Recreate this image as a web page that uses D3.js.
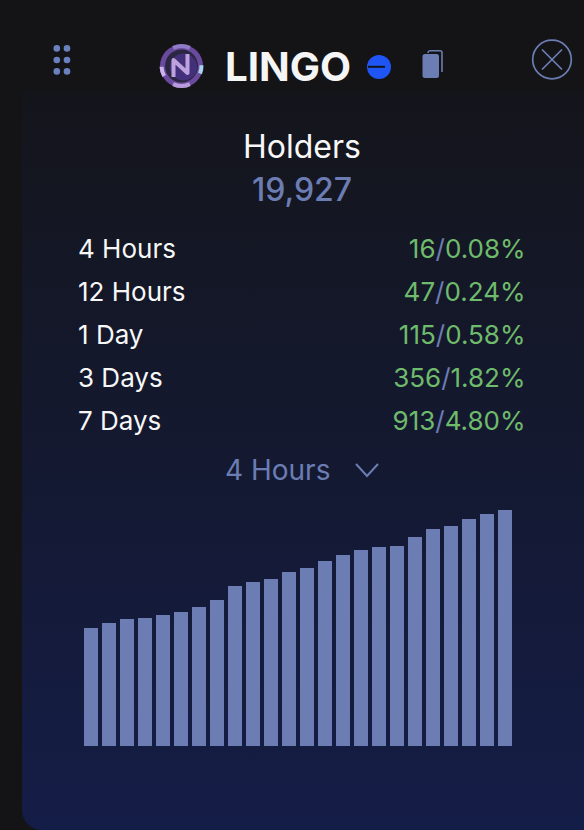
<!DOCTYPE html>
<html>
<head>
<meta charset="utf-8">
<script src="https://cdn.jsdelivr.net/npm/d3@7"></script>
<style>
  html, body { margin: 0; padding: 0; background: #141417; overflow: hidden; }
  text { font-family: Inter, "Noto Sans", sans-serif; }
</style>
</head>
<body>
<svg id="chart" width="584" height="830"></svg>
<script>
// values
var periods = ["4 Hours", "12 Hours", "1 Day", "3 Days", "7 Days"];
var changes = ["16", "47", "115", "356", "913"];
var percents = ["0.08%", "0.24%", "0.58%", "1.82%", "4.80%"];
var barValues = [118, 123, 127, 128, 131, 134, 139, 146, 160, 164, 167, 174,
                 178, 185, 191, 196, 199, 200, 209, 217, 220, 227, 232, 236];

var blue = "#6b7db3";
var svg = d3.select("#chart");
var defs = svg.append("defs");

var grad = defs.append("linearGradient").attr("id", "panelFill")
  .attr("x1", 0).attr("y1", 0).attr("x2", 0).attr("y2", 1);
grad.append("stop").attr("offset", "0%").attr("stop-color", "#14151b");
grad.append("stop").attr("offset", "100%").attr("stop-color", "#141d47");

// page panel
svg.append("rect").attr("width", 584).attr("height", 830).attr("fill", "#141417");
svg.append("path")
  .attr("d", "M22,90H584V830H42A20,20 0 0 1 22,810Z")
  .attr("fill", "url(#panelFill)");

// drag handle
var dotRows = [48.4, 60, 71.4], dotCols = [56.8, 67];
dotRows.forEach(function (r) {
  dotCols.forEach(function (c) {
    svg.append("circle").attr("cx", c).attr("cy", r).attr("r", 3.3).attr("fill", "#6b80bf");
  });
});

// logo
var logo = svg.append("g").attr("transform", "translate(181.5,66)");
var logoArc = d3.arc().innerRadius(18).outerRadius(22);
logo.append("circle").attr("r", 21.5).attr("fill", "#6a4a9e");
logo.append("circle").attr("r", 16.5).attr("fill", "#2c2740");
logo.append("circle").attr("cx", 2).attr("cy", 1).attr("r", 13.5).attr("fill", "#43307a");
// pale pieces of the ring: [start, end, colour] in degrees
var ringPieces = [[-25, 25, "#8f7cc8"], [88, 112, "#a9d4ee"], [155, 205, "#b79bdc"], [240, 268, "#cbb4ee"]];
ringPieces.forEach(function (p) {
  logo.append("path")
    .attr("d", logoArc({ startAngle: p[0] * Math.PI / 180, endAngle: p[1] * Math.PI / 180 }))
    .attr("fill", p[2]);
});
logo.append("path").attr("d", "M-8,11V-6L6,7V-12")
  .attr("fill", "none").attr("stroke", "#bda2dd").attr("stroke-width", 4).attr("stroke-linejoin", "round");

// title row
svg.append("text").attr("x", 225).attr("y", 81)
  .attr("font-size", 40.3).attr("font-weight", 700).attr("fill", "#f5f5f5").text("LINGO");
svg.append("circle").attr("cx", 379).attr("cy", 67).attr("r", 12).attr("fill", "#1f54f5");
svg.append("rect").attr("x", 368).attr("y", 65.8).attr("width", 17).attr("height", 2).attr("fill", "#12141c");

// copy icon
svg.append("path").attr("d", "M428,53V52.5A2,2 0 0 1 430,50.7H440A2,2 0 0 1 442,52.7V72")
  .attr("fill", "none").attr("stroke", blue).attr("stroke-width", 1.6);
svg.append("rect").attr("x", 422.5).attr("y", 54).attr("width", 16.5).attr("height", 24).attr("rx", 2.5)
  .attr("fill", blue);

// close button
var close = svg.append("g").attr("transform", "translate(552,59.5)")
  .attr("fill", "none").attr("stroke", blue).attr("stroke-width", 1.7);
close.append("circle").attr("r", 19.3);
close.append("path").attr("d", "M-10,-10L10,10M10,-10L-10,10");

// heading
svg.append("text").attr("x", 302).attr("y", 158).attr("text-anchor", "middle")
  .attr("font-size", 32).attr("fill", "#f7f7f7").text("Holders");
svg.append("text").attr("x", 302).attr("y", 201).attr("text-anchor", "middle")
  .attr("font-size", 32).attr("font-weight", 500).attr("fill", blue).text("19,927");

// table rows
var rowY = d3.scalePoint().domain(periods).range([258, 430]);

svg.selectAll("text.period").data(periods).enter().append("text")
  .attr("class", "period").attr("x", 78).attr("y", function (d) { return rowY(d); })
  .attr("font-size", 26).attr("fill", "#f7f7f7").text(function (d) { return d; });

var rows = svg.selectAll("text.change").data(periods).enter().append("text")
  .attr("class", "change").attr("x", 525.5).attr("y", function (d) { return rowY(d); })
  .attr("text-anchor", "end").attr("font-size", 26).attr("fill", "#6fbb6c");
rows.append("tspan").text(function (d, i) { return changes[i]; });
rows.append("tspan").attr("fill", blue).text("/");
rows.append("tspan").text(function (d, i) { return percents[i]; });

// dropdown
svg.append("text").attr("x", 225).attr("y", 480)
  .attr("font-size", 28).attr("fill", blue).text("4 Hours");
svg.append("path").attr("d", "M356,464L367,476L378,464")
  .attr("fill", "none").attr("stroke", blue).attr("stroke-width", 2);

// bars
var x = d3.scaleBand().domain(d3.range(barValues.length))
  .range([84, 512]).paddingInner(4 / 18).paddingOuter(0);
var y = d3.scaleLinear().domain([0, 236]).range([746, 510]);

svg.selectAll("rect.bar").data(barValues).enter().append("rect")
  .attr("class", "bar")
  .attr("x", function (d, i) { return x(i); })
  .attr("y", function (d) { return y(d); })
  .attr("width", x.bandwidth())
  .attr("height", function (d) { return y(0) - y(d); })
  .attr("fill", blue);
</script>
</body>
</html>
